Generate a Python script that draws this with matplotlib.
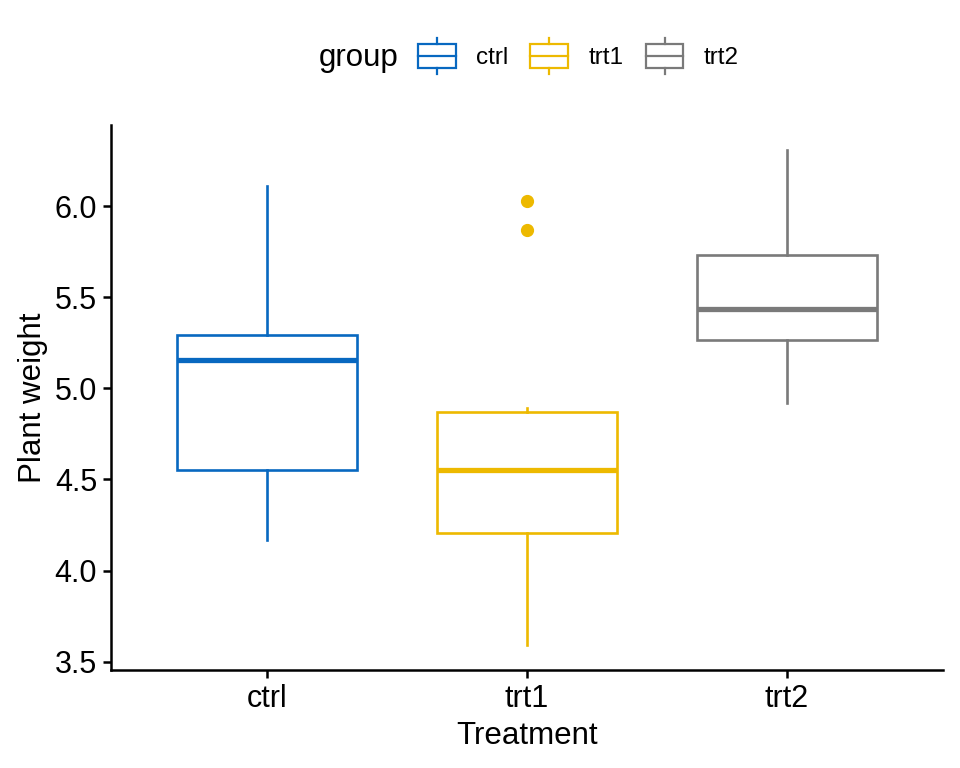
import matplotlib.pyplot as plt
from matplotlib.legend_handler import HandlerBase
from matplotlib.patches import Rectangle
from matplotlib.lines import Line2D

plt.rcParams['font.family'] = ['Liberation Sans', 'DejaVu Sans']

# PlantGrowth data
groups = ['ctrl', 'trt1', 'trt2']
ctrl = [4.17, 5.58, 5.18, 6.11, 4.50, 4.61, 5.17, 4.53, 5.33, 5.14]
trt1 = [4.81, 4.17, 4.41, 3.59, 5.87, 3.83, 6.03, 4.89, 4.32, 4.69]
trt2 = [6.31, 5.12, 5.54, 5.50, 5.37, 5.29, 4.92, 6.15, 5.80, 5.26]
colors = ['#0868C0', '#EDB900', '#7A7A7A']


class BoxKey(HandlerBase):
    def create_artists(self, legend, orig_handle, xdescent, ydescent,
                       width, height, fontsize, trans):
        c = orig_handle.get_edgecolor()
        x0 = -xdescent
        w = width
        cy = -ydescent + height / 2
        h = 24 * 72 / 100
        rect = Rectangle((x0, cy - h / 2), w, h, facecolor='none', edgecolor=c,
                         lw=1.6, transform=trans)
        mid = Line2D([x0, x0 + w], [cy, cy], color=c, lw=1.6, transform=trans)
        cx = x0 + w / 2
        s = 6 * 72 / 100
        top = Line2D([cx, cx], [cy + h / 2, cy + h / 2 + s], color=c, lw=1.6, transform=trans)
        bot = Line2D([cx, cx], [cy - h / 2, cy - h / 2 - s], color=c, lw=1.6, transform=trans)
        return [rect, mid, top, bot]


fig = plt.figure(figsize=(9.6, 7.68), dpi=100)
ax = fig.add_axes([0.1156, 0.1276, 0.8667, 0.7096])

data = [ctrl, trt1, trt2]
for i, (vals, c) in enumerate(zip(data, colors)):
    ax.boxplot([vals], positions=[i], widths=0.69, whis=1.5,
               patch_artist=True,
               boxprops=dict(facecolor='white', edgecolor=c, linewidth=1.9),
               medianprops=dict(color=c, linewidth=3.8),
               whiskerprops=dict(color=c, linewidth=1.9),
               capprops=dict(linewidth=0),
               flierprops=dict(marker='o', markerfacecolor=c, markeredgecolor=c,
                               markersize=8.5))

ax.set_xlim(-0.6, 2.6)
ax.set_ylim(3.454, 6.446)
ax.set_xticks(range(3))
ax.set_xticklabels(groups)
ax.set_yticks([3.5, 4.0, 4.5, 5.0, 5.5, 6.0])
ax.set_yticklabels(['3.5', '4.0', '4.5', '5.0', '5.5', '6.0'])
ax.tick_params(labelsize=22, width=1.8, length=6, colors='black', pad=4)
for s in ['top', 'right']:
    ax.spines[s].set_visible(False)
for s in ['left', 'bottom']:
    ax.spines[s].set_linewidth(1.8)
ax.set_xlabel('Treatment', fontsize=22.5, labelpad=5)
ax.set_ylabel('Plant weight', fontsize=22.5, labelpad=5)

handles = [Rectangle((0, 0), 1, 1, facecolor='none', edgecolor=c) for c in colors]
fig.text(398 / 960, 1 - 58 / 768, 'group', fontsize=22.5, ha='right', va='center')
fig.legend(handles, groups, loc='center left', ncol=3,
           bbox_to_anchor=(418 / 960, 1 - 58 / 768), frameon=False, fontsize=17.5,
           handler_map={Rectangle: BoxKey()}, borderpad=0, borderaxespad=0,
           handlelength=1.55, handletextpad=0.85, columnspacing=0.9)

fig.savefig('out.png', dpi=100)
